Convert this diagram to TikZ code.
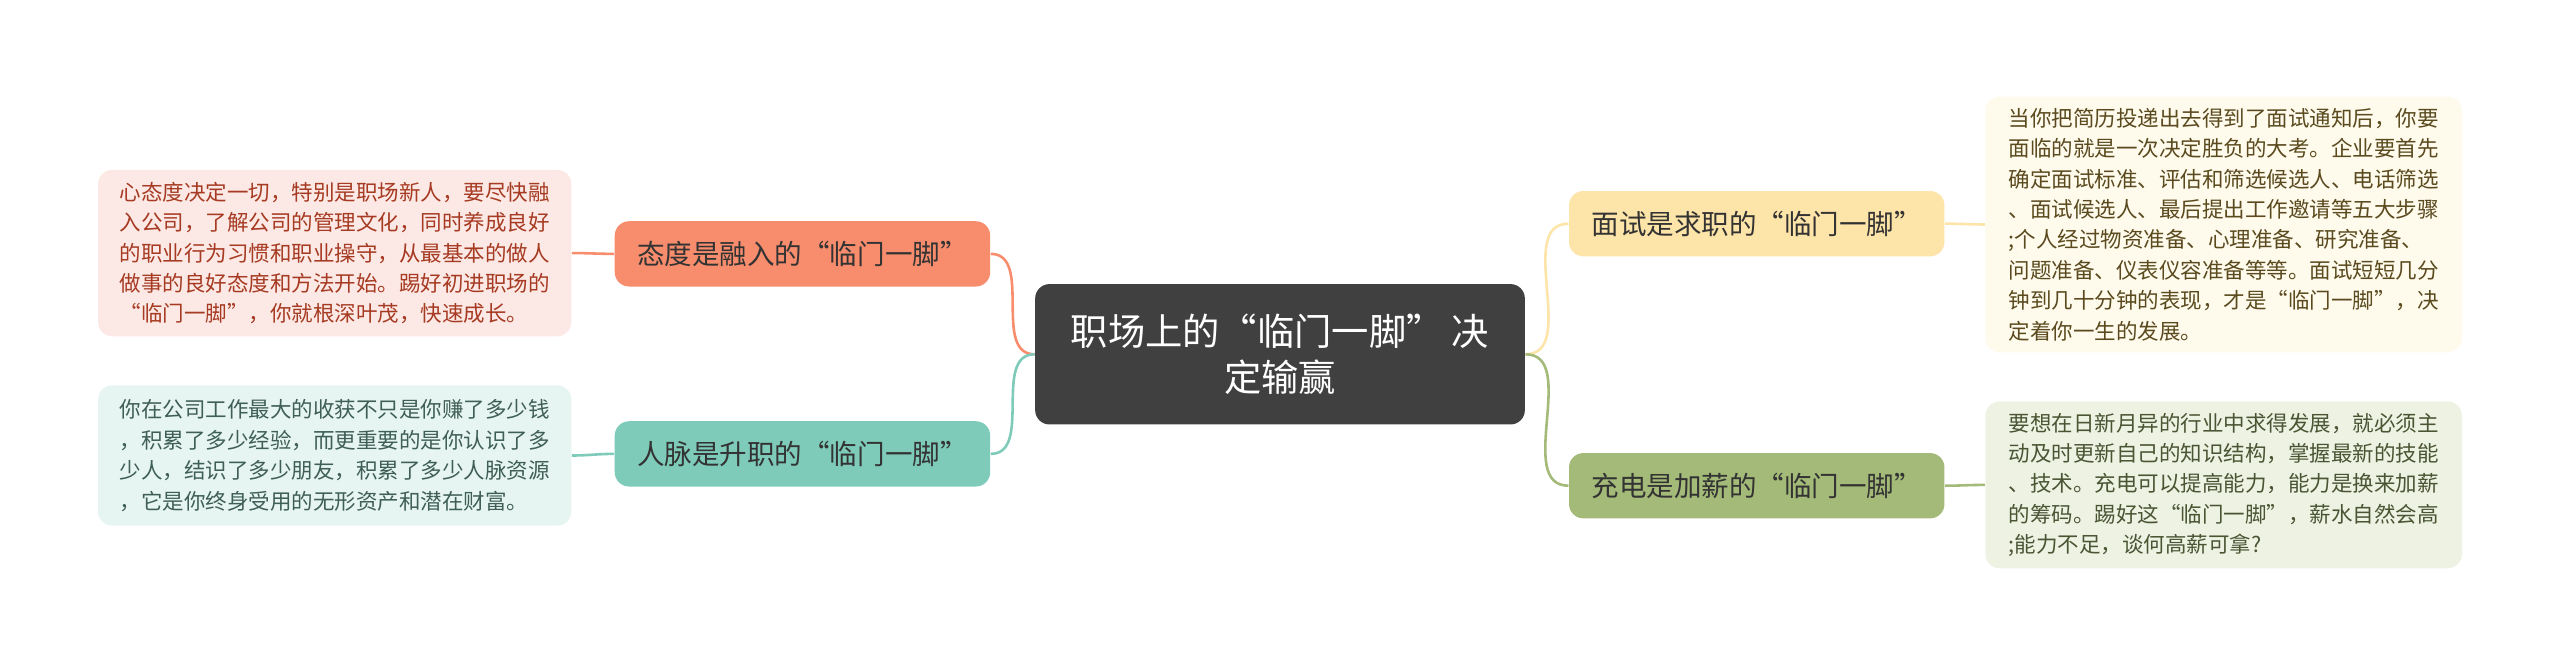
\documentclass[tikz,border=0pt]{standalone}
\usepackage{fontspec}
\setmainfont{Noto Sans CJK SC}
\usetikzlibrary{positioning}
\definecolor{centerfill}{HTML}{404040}
\definecolor{orangefill}{HTML}{F88D6E}
\definecolor{tealfill}{HTML}{7ECBBA}
\definecolor{yellowfill}{HTML}{FDE4A8}
\definecolor{greenfill}{HTML}{A3BA78}
\definecolor{pinkleaf}{HTML}{FCE9E5}
\definecolor{mintleaf}{HTML}{E6F5F1}
\definecolor{creamleaf}{HTML}{FEFAEC}
\definecolor{oliveleaf}{HTML}{EEF2E3}
\definecolor{redtext}{HTML}{A63A22}
\definecolor{tealtext}{HTML}{3F5E56}
\definecolor{browntext}{HTML}{5A4A1E}
\definecolor{olivetext}{HTML}{4A5534}
\tikzset{
  topic/.style={rounded corners=5pt, minimum width=4.6cm, minimum height=0.8cm, font=\fontsize{9.6}{11}\selectfont, inner sep=2pt},
  leaf/.style={rounded corners=5pt, align=left, font=\fontsize{7.5}{10.6}\selectfont, inner sep=4pt},
  link/.style={line width=0.9pt}
}
\begin{document}
\begin{tikzpicture}[x=0.02cm, y=-0.02cm]
    \useasboundingbox (0,0) rectangle (1568,408);
    % Center
    \node[fill=centerfill, text=white, rounded corners=5pt, minimum width=6cm, minimum height=1.72cm, align=center, font=\fontsize{13}{16}\selectfont] (root) at (784,217) {职场上的“临门一脚” 决\\定输赢};
    % Topics
    \node[topic, fill=orangefill, text=black!80] (attitude) at (491.5,155.5) {态度是融入的“临门一脚”};
    \node[topic, fill=tealfill, text=black!80] (network) at (491.5,278) {人脉是升职的“临门一脚”};
    \node[topic, fill=yellowfill, text=black!80] (interview) at (1076,137) {面试是求职的“临门一脚”};
    \node[topic, fill=greenfill, text=black!80] (charge) at (1076,297.5) {充电是加薪的“临门一脚”};
    % Leaves
    \node[leaf, fill=pinkleaf, text=redtext, minimum width=5.8cm, minimum height=2.04cm] (attleaf) at (205,155) {心态度决定一切，特别是职场新人，要尽快融\\入公司，了解公司的管理文化，同时养成良好\\的职业行为习惯和职业操守，从最基本的做人\\做事的良好态度和方法开始。踢好初进职场的\\“临门一脚”，你就根深叶茂，快速成长。};
    \node[leaf, fill=mintleaf, text=tealtext, minimum width=5.8cm, minimum height=1.72cm] (netleaf) at (205,279) {你在公司工作最大的收获不只是你赚了多少钱\\，积累了多少经验，而更重要的是你认识了多\\少人，结识了多少朋友，积累了多少人脉资源\\，它是你终身受用的无形资产和潜在财富。};
    \node[leaf, fill=creamleaf, text=browntext, minimum width=5.84cm, minimum height=3.1cm] (intleaf) at (1362,137.5) {当你把简历投递出去得到了面试通知后，你要\\面临的就是一次决定胜负的大考。企业要首先\\确定面试标准、评估和筛选候选人、电话筛选\\、面试候选人、最后提出工作邀请等五大步骤\\;个人经过物资准备、心理准备、研究准备、\\问题准备、仪表仪容准备等等。面试短短几分\\钟到几十分钟的表现，才是“临门一脚”，决\\定着你一生的发展。};
    \node[leaf, fill=oliveleaf, text=olivetext, minimum width=5.84cm, minimum height=2.04cm] (chleaf) at (1362,297) {要想在日新月异的行业中求得发展，就必须主\\动及时更新自己的知识结构，掌握最新的技能\\、技术。充电可以提高能力，能力是换来加薪\\的筹码。踢好这“临门一脚”，薪水自然会高\\;能力不足，谈何高薪可拿?};
    % Connectors
    \draw[link, orangefill] (root.west) to[out=180, in=0] (attitude.east);
    \draw[link, tealfill] (root.west) to[out=180, in=0] (network.east);
    \draw[link, yellowfill] (root.east) to[out=0, in=180] (interview.west);
    \draw[link, greenfill] (root.east) to[out=0, in=180] (charge.west);
    \draw[link, orangefill] (attitude.west) to[out=180, in=0] (attleaf.east);
    \draw[link, tealfill] (network.west) to[out=180, in=0] (netleaf.east);
    \draw[link, yellowfill] (interview.east) to[out=0, in=180] (intleaf.west);
    \draw[link, greenfill] (charge.east) to[out=0, in=180] (chleaf.west);
\end{tikzpicture}
\end{document}
